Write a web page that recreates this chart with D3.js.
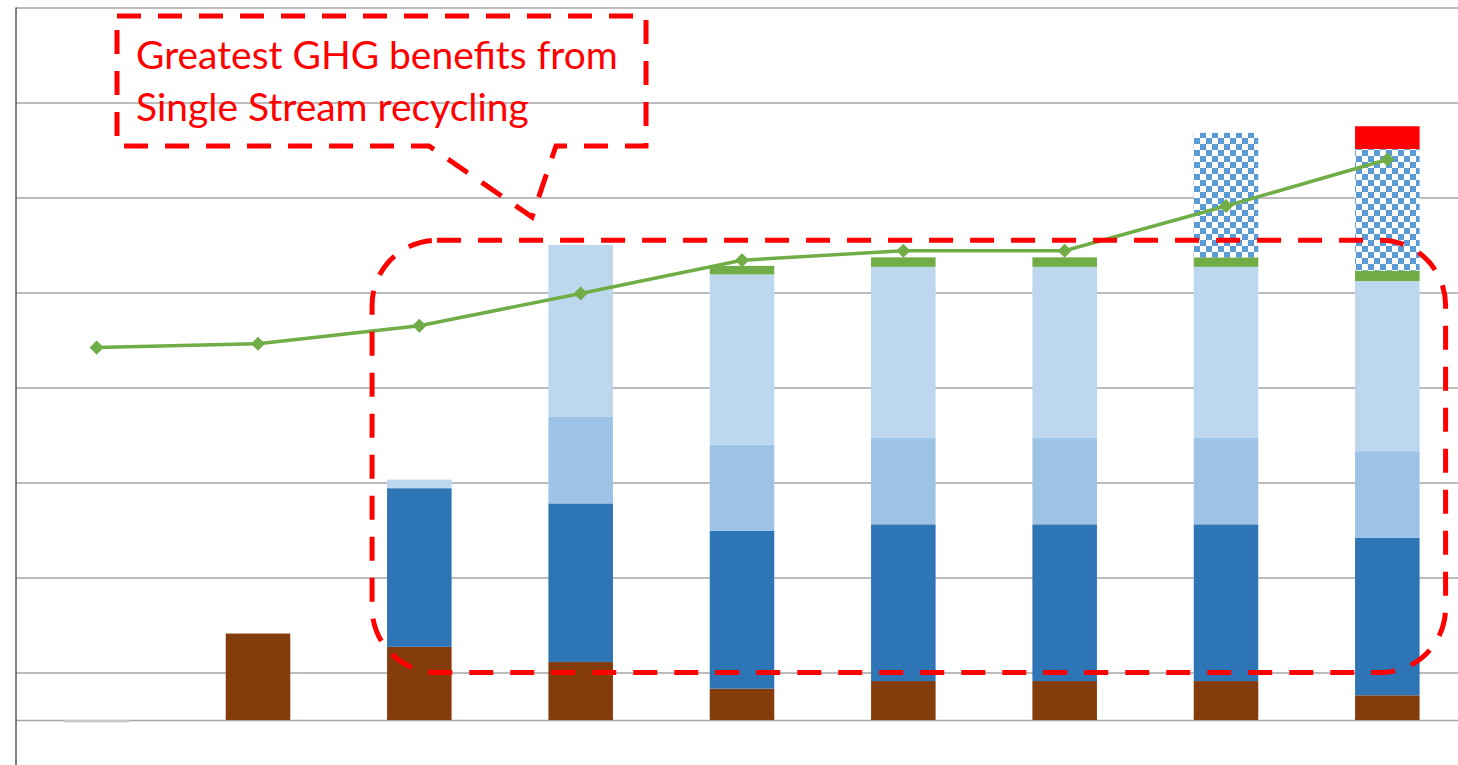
<!DOCTYPE html>
<html><head><meta charset="utf-8">
<script src="https://cdn.jsdelivr.net/npm/d3@7"></script>
<style>html,body{margin:0;padding:0;background:#fff;overflow:hidden}</style>
</head><body><svg id="chart" width="1458" height="765"></svg>
<script>
// ---- data ----
const categories = ["Scenario 1","Scenario 2","Scenario 3","Scenario 4","Scenario 5","Scenario 6","Scenario 7","Scenario 8","Scenario 9"];
const otherValues      = [-2.5, 0, 0, 0, 0, 0, 0, 0, 0];
const landfillValues   = [0, 91, 77, 61, 33, 41, 41, 41, 26];
const recycleAValues   = [0, 0, 167, 167, 166, 165, 165, 165, 166];
const recycleBValues   = [0, 0, 0, 91, 91, 91, 91, 91, 91];
const recycleCValues   = [0, 0, 9, 181, 179, 180, 180, 180, 179];
const compostValues    = [0, 0, 0, 0, 9, 10, 10, 10, 11];
const extraValues      = [0, 0, 0, 0, 0, 0, 0, 131, 128];
const topValues        = [0, 0, 0, 0, 0, 0, 0, 0, 24];
const lineValues       = [392, 396, 415, 449, 484, 494, 494, 541, 590];
const gridTicks        = [0, 50, 150, 250, 350, 450, 550, 650, 750];
const calloutLines     = ["Greatest GHG benefits from", "Single Stream recycling"];

const seriesKeys = ["other","landfill","recycleA","recycleB","recycleC","compost","extra","top"];
const seriesArrays = [otherValues, landfillValues, recycleAValues, recycleBValues, recycleCValues, compostValues, extraValues, topValues];
const seriesFill = {
  other: "#C9C9C9", landfill: "#843C0C", recycleA: "#2E75B6", recycleB: "#9DC3E6",
  recycleC: "#BDD7EE", compost: "#70AD47", extra: "url(#checker)", top: "#FF0000"
};

const table = categories.map((c, i) => {
  const row = {category: c};
  seriesKeys.forEach((k, j) => row[k] = seriesArrays[j][i]);
  return row;
});

const svg = d3.select("#chart");
const W = 1458, H = 765;

const x = d3.scaleBand().domain(categories).range([16, 1468]).paddingInner(0.6).paddingOuter(0.3);
const y = d3.scaleLinear().domain([0, 750]).range([720, 7.5]);

// pattern
const defs = svg.append("defs");
const cell = 6;
const pat = defs.append("pattern").attr("id", "checker").attr("patternUnits", "userSpaceOnUse")
  .attr("width", cell * 2).attr("height", cell * 2);
pat.append("rect").attr("width", cell * 2).attr("height", cell * 2).attr("fill", "#fff");
pat.append("rect").attr("x", 0).attr("y", 0).attr("width", cell).attr("height", cell).attr("fill", "#5B9BD5");
pat.append("rect").attr("x", cell).attr("y", cell).attr("width", cell).attr("height", cell).attr("fill", "#5B9BD5");

// gridlines
const grid = d3.axisLeft(y).tickValues(gridTicks).tickSize(-(W - 16)).tickFormat("");
svg.append("g").attr("transform", "translate(16,0)").call(grid)
  .call(g => g.select(".domain").remove())
  .call(g => g.selectAll("line").attr("stroke", "#A6A6A6").attr("stroke-width", 1.5));

// stacked bars
const stack = d3.stack().keys(seriesKeys).offset(d3.stackOffsetDiverging);
const stacked = stack(table);
svg.append("g").selectAll("g").data(stacked).join("g")
  .attr("fill", d => seriesFill[d.key])
  .selectAll("rect").data(d => d.filter(p => p[1] !== p[0])).join("rect")
  .attr("x", d => x(d.data.category))
  .attr("width", x.bandwidth())
  .attr("y", d => y(Math.max(d[0], d[1])))
  .attr("height", d => Math.abs(y(d[0]) - y(d[1])));

// left axis line
svg.append("line").attr("x1", 16).attr("x2", 16).attr("y1", y(750)).attr("y2", H)
  .attr("stroke", "#595959").attr("stroke-width", 1.5);

// line series
const cx = c => x(c) + x.bandwidth() / 2;
const line = d3.line().x((d, i) => cx(categories[i])).y(d => y(d));
svg.append("path").datum(lineValues).attr("d", line)
  .attr("fill", "none").attr("stroke", "#70AD47").attr("stroke-width", 3.5);
svg.append("g").selectAll("path").data(lineValues).join("path")
  .attr("d", d3.symbol(d3.symbolSquare, 100)())
  .attr("transform", (d, i) => `translate(${cx(categories[i])},${y(d)}) rotate(45)`)
  .attr("fill", "#70AD47");

// annotation: rounded dashed box around recycling scenarios
const red = "#FF0000";
const bx0 = x(categories[2]) - 15, bx1 = x(categories[8]) + x.bandwidth() + 26;
const by0 = y(505), by1 = y(50);
svg.append("rect").attr("x", bx0).attr("y", by0).attr("width", bx1 - bx0).attr("height", by1 - by0)
  .attr("rx", 65).attr("ry", 65)
  .attr("fill", "none").attr("stroke", red).attr("stroke-width", 5).attr("stroke-dasharray", "24 17");

// annotation: callout
const cL = 117, cR = 646, cT = 16, cB = 146, tail1 = 429, tail2 = 556, tipX = 532, tipY = 217;
svg.append("path")
  .attr("d", `M${cL},${cT}H${cR}V${cB}H${tail2}L${tipX},${tipY}L${tail1},${cB}H${cL}Z`)
  .attr("fill", "none").attr("stroke", red).attr("stroke-width", 5).attr("stroke-dasharray", "24 17");

const txt = svg.append("g").attr("font-family", "Lato, 'Open Sans', sans-serif").attr("fill", red);
const t1 = txt.append("text").attr("x", 136).attr("y", 69).attr("font-size", 36).text(calloutLines[0]);
const w1 = t1.node().getComputedTextLength();
const fs = 36 * 482 / w1;
t1.attr("font-size", fs);
txt.append("text").attr("x", 136).attr("y", 121).attr("font-size", fs).text(calloutLines[1]);
</script>
</body></html>
